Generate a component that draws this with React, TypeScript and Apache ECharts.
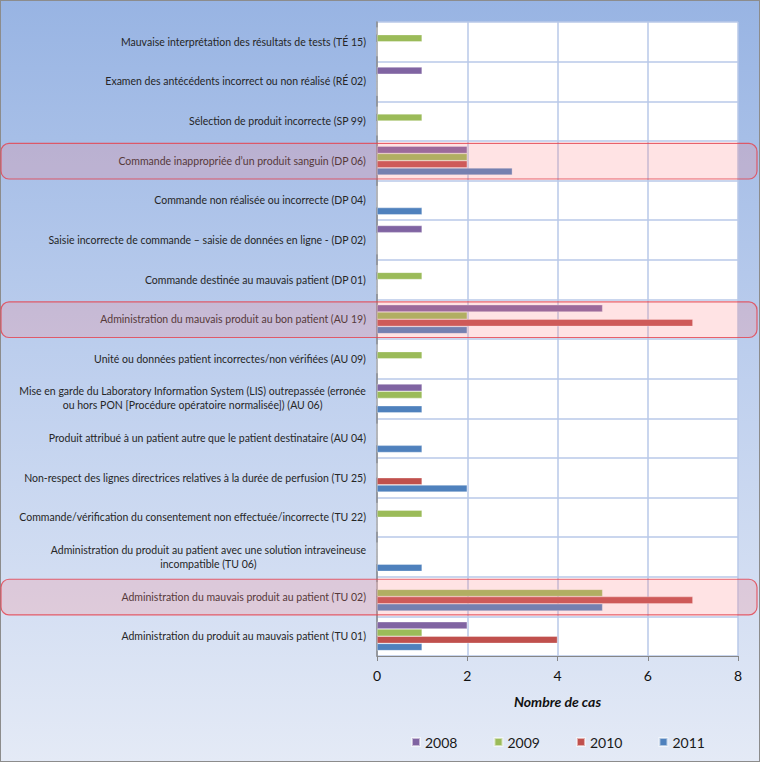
import React, { useEffect, useRef } from "react";
import * as echarts from "echarts";

// Incident categories, top to bottom
const categories: string[] = [
  "Mauvaise interprétation des résultats de tests (TÉ 15)",
  "Examen des antécédents incorrect ou non réalisé (RÉ 02)",
  "Sélection de produit incorrecte (SP 99)",
  "Commande inappropriée d’un produit sanguin (DP 06)",
  "Commande non réalisée ou incorrecte (DP 04)",
  "Saisie incorrecte de commande – saisie de données en ligne - (DP 02)",
  "Commande destinée au mauvais patient (DP 01)",
  "Administration du mauvais produit au bon patient (AU 19)",
  "Unité ou données patient incorrectes/non vérifiées (AU 09)",
  "Mise en garde du Laboratory Information System (LIS) outrepassée (erronée\nou hors PON [Procédure opératoire normalisée]) (AU 06)",
  "Produit attribué à un patient autre que le patient destinataire (AU 04)",
  "Non-respect des lignes directrices relatives à la durée de perfusion (TU 25)",
  "Commande/vérification du consentement non effectuée/incorrecte (TU 22)",
  "Administration du produit au patient avec une solution intraveineuse\nincompatible (TU 06)",
  "Administration du mauvais produit au patient (TU 02)",
  "Administration du produit au mauvais patient (TU 01)",
];

const years: string[] = ["2008", "2009", "2010", "2011"];

const cases2008: number[] = [0, 1, 0, 2, 0, 1, 0, 5, 0, 1, 0, 0, 0, 0, 0, 2];
const cases2009: number[] = [1, 0, 1, 2, 0, 0, 1, 2, 1, 1, 0, 0, 1, 0, 5, 1];
const cases2010: number[] = [0, 0, 0, 2, 0, 0, 0, 7, 0, 0, 0, 1, 0, 0, 7, 4];
const cases2011: number[] = [0, 0, 0, 3, 1, 0, 0, 2, 0, 1, 1, 2, 0, 1, 5, 1];

const yearColors: string[] = ["#8064A2", "#9BBB59", "#C0504D", "#4F81BD"];

// Rows outlined as the most frequent incident types
const highlighted: string[] = [
  "Commande inappropriée d’un produit sanguin (DP 06)",
  "Administration du mauvais produit au bon patient (AU 19)",
  "Administration du mauvais produit au patient (TU 02)",
];

const xMin = 0;
const xMax = 8;
const xStep = 2;

const FONT = "Lato, 'Noto Sans', sans-serif";

export default function App() {
  const ref = useRef<HTMLDivElement>(null);

  useEffect(() => {
    if (!ref.current) return;
    const chart = echarts.init(ref.current, undefined, { renderer: "svg" });
    const seriesData = [cases2008, cases2009, cases2010, cases2011];

    chart.setOption({
      animation: false,
      backgroundColor: "transparent",
      textStyle: { fontFamily: FONT },
      grid: {
        left: 377,
        top: 22,
        width: 361,
        height: 634,
        show: true,
        backgroundColor: "#FFFFFF",
        borderWidth: 0,
        containLabel: false,
      },
      legend: {
        data: years,
        left: 406,
        top: 730,
        icon: "rect",
        itemWidth: 8,
        itemHeight: 8,
        itemGap: 36,
        textStyle: { fontSize: 14, color: "#1a1a1a", fontFamily: FONT },
      },
      xAxis: {
        type: "value",
        min: xMin,
        max: xMax,
        interval: xStep,
        axisLine: { show: true, lineStyle: { color: "#868686", width: 1 } },
        axisTick: { show: true, length: 5, lineStyle: { color: "#868686" } },
        axisLabel: { fontSize: 14, color: "#111", margin: 12, fontFamily: FONT },
        splitLine: { show: true, lineStyle: { color: "#B9C9E9", width: 1.5 } },
        name: "Nombre de cas",
        nameLocation: "middle",
        nameGap: 38,
        nameTextStyle: {
          fontSize: 14,
          fontWeight: "bold",
          fontStyle: "italic",
          color: "#111",
          fontFamily: FONT,
        },
      },
      yAxis: {
        type: "category",
        inverse: true,
        data: categories,
        axisLine: { show: true, lineStyle: { color: "#868686", width: 1.5 } },
        axisTick: { show: false },
        splitLine: { show: true, interval: 0, lineStyle: { color: "#B9C9E9", width: 1.5 } },
        axisLabel: {
          interval: 0,
          margin: 11,
          fontSize: 10.5,
          lineHeight: 14,
          color: "#262626",
          fontFamily: FONT,
          formatter: (v: string) =>
            v
              .split("\n")
              .map((line) => `{c|${line}}`)
              .join("\n"),
          rich: {
            c: {
              align: "center",
              fontSize: 10.5,
              lineHeight: 14,
              color: "#262626",
              fontFamily: FONT,
            },
          },
        },
      },
      series: years.map((y, i) => ({
        name: y,
        type: "bar",
        data: seriesData[i],
        barGap: "0%",
        barCategoryGap: "27%",
        itemStyle: {
          color: yearColors[i],
          borderColor: "rgba(255,255,255,0.55)",
          borderWidth: 0.6,
        },
      })),
    });

    // Translucent outlines over the highlighted rows, positioned from the category axis
    const bandH = 634 / categories.length;
    const overlays = highlighted.map((cat) => {
      const cy = chart.convertToPixel({ yAxisIndex: 0 }, cat) as number;
      return {
        type: "rect",
        z: 100,
        shape: { x: 1, y: cy - bandH / 2 + 2.5, width: 756, height: bandH - 4, r: 8 },
        style: {
          fill: "rgba(255, 128, 132, 0.22)",
          stroke: "rgba(228, 72, 84, 0.85)",
          lineWidth: 1.2,
        },
      };
    });
    chart.setOption({ graphic: overlays });

    return () => chart.dispose();
  }, []);

  return (
    <div
      style={{
        position: "absolute",
        left: 0,
        top: 0,
        width: 760,
        height: 762,
        background: "linear-gradient(180deg, #98B4E3 0%, #BFD0EE 50%, #E4EAF6 100%)",
        boxShadow: "inset 0 0 0 1px #8C8C8C",
      }}
    >
      <div ref={ref} style={{ width: 760, height: 762 }} />
    </div>
  );
}
